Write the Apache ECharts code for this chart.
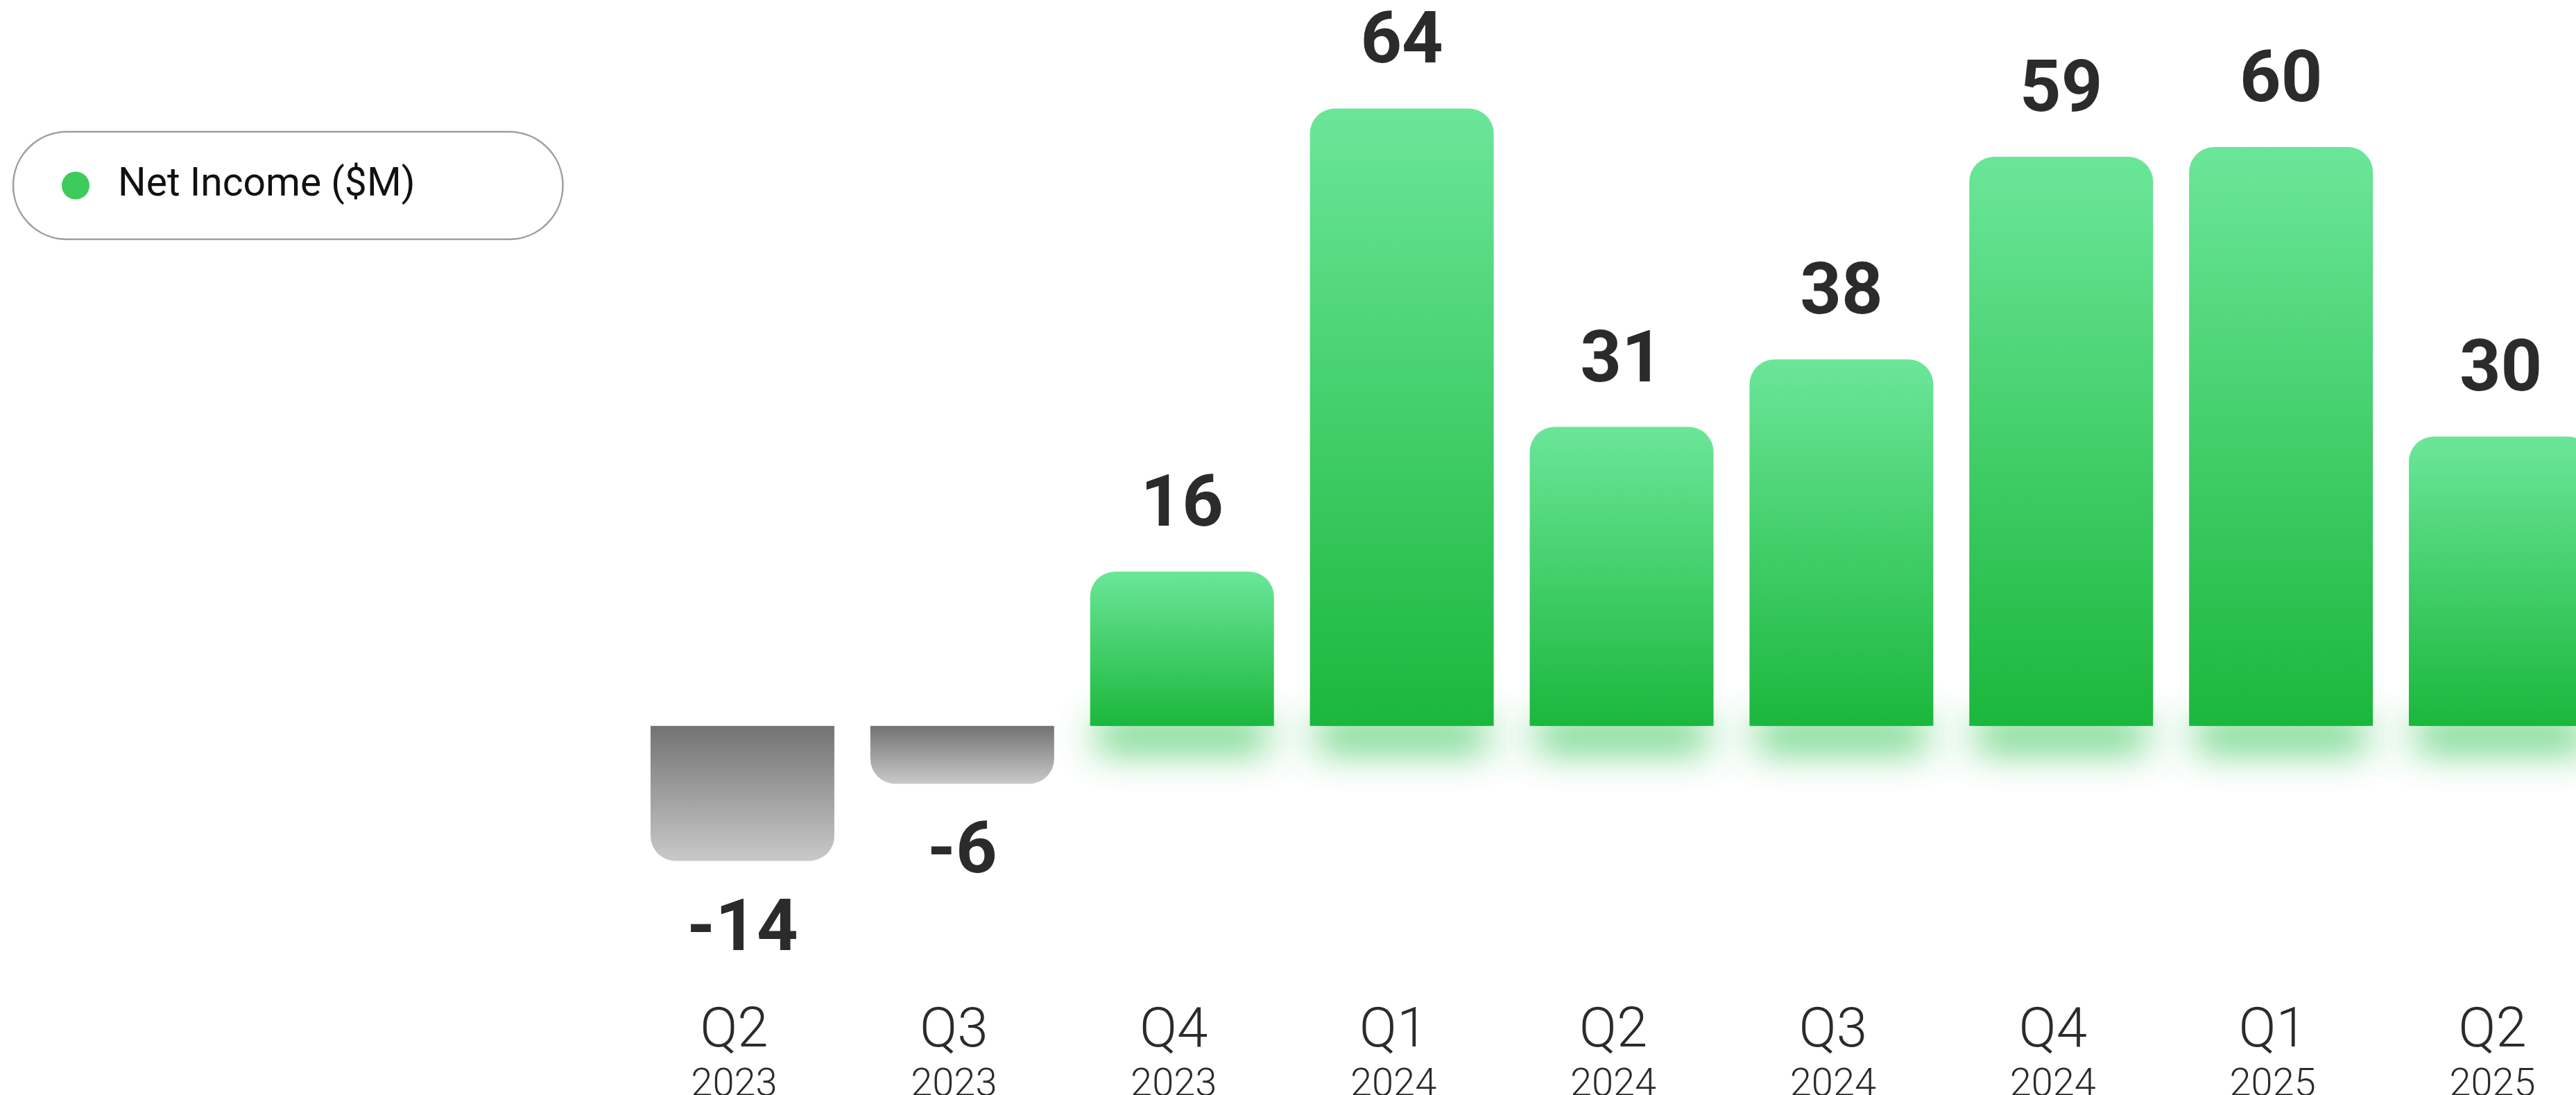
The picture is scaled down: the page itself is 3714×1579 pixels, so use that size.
<!DOCTYPE html>
<html>
<head>
<meta charset="utf-8">
<script src="https://cdn.jsdelivr.net/npm/echarts@6/dist/echarts.min.js"></script>
<style>
html,body{margin:0;padding:0;background:#ffffff;}
#chart{width:3714px;height:1579px;}
</style>
</head>
<body>
<div id="chart"></div>
<script>
const quarters = ['Q2','Q3','Q4','Q1','Q2','Q3','Q4','Q1','Q2'];
const years = ['2023','2023','2023','2024','2024','2024','2024','2025','2025'];
const netIncome = [-14, -6, 16, 64, 31, 38, 59, 60, 30];
const seriesName = 'Net Income ($M)';

const categories = quarters.map((q, i) => q + '\n' + years[i]);

const greenGrad = new echarts.graphic.LinearGradient(0, 0, 0, 1, [
  {offset: 0, color: '#6BE699'},
  {offset: 1, color: '#1BB73C'}
]);
const grayGrad = new echarts.graphic.LinearGradient(0, 0, 0, 1, [
  {offset: 0, color: '#737373'},
  {offset: 1, color: '#C9C9C9'}
]);

const barData = netIncome.map(v => ({
  value: v,
  itemStyle: v >= 0
    ? {color: greenGrad, borderRadius: [36, 36, 0, 0]}
    : {color: grayGrad, borderRadius: [0, 0, 36, 36]},
  label: v >= 0 ? {position: 'top', distance: 40} : {position: 'bottom', distance: 50}
}));

const chart = echarts.init(document.getElementById('chart'), null, {renderer: 'canvas'});
chart.setOption({
  backgroundColor: '#ffffff',
  animation: false,
  legend: {
    left: 19,
    top: 190,
    data: [{name: seriesName, itemStyle: {color: '#3DCB5D'}}],
    icon: 'circle',
    itemWidth: 40,
    itemHeight: 40,
    borderColor: '#9E9E9E',
    borderWidth: 2.5,
    borderRadius: 79,
    padding: [49, 213, 49, 70],
    textStyle: {
      fontFamily: 'Roboto',
      fontSize: 57,
      color: '#111111',
      padding: [0, 0, 0, 36]
    }
  },
  grid: {
    left: 912,
    width: 2852,
    top: 73,
    height: 1252,
    outerBoundsMode: 'none',
    containLabel: false
  },
  xAxis: {
    type: 'category',
    data: categories,
    axisLine: {show: false, onZero: false},
    axisTick: {show: false},
    splitLine: {show: false},
    axisLabel: {
      margin: 122,
      formatter: function (val) {
        const parts = val.split('\n');
        return '{q|' + parts[0] + '}\n{y|' + parts[1] + '}';
      },
      rich: {
        q: {fontFamily: 'Roboto', fontSize: 80, fontWeight: 300, color: '#2B2B2B', lineHeight: 84, padding: [0, 24, 0, 0]},
        y: {fontFamily: 'Roboto', fontSize: 56, fontWeight: 300, color: '#2B2B2B', lineHeight: 70, padding: [0, 24, 0, 0]}
      }
    }
  },
  yAxis: {
    type: 'value',
    min: -20,
    max: 70,
    show: false,
    splitLine: {show: false}
  },
  series: [
    {
      name: 'glow',
      type: 'custom',
      z: 1,
      silent: true,
      data: netIncome,
      renderItem: function (params, api) {
        const v = api.value(0);
        if (v <= 0) return null;
        const c = api.coord([params.dataIndex, 0]);
        const w = 265;
        return {
          type: 'rect',
          shape: {x: c[0] - w / 2 + 10, y: c[1] - 40, width: w - 20, height: 40},
          style: {
            fill: 'rgba(60,200,90,1)',
            shadowBlur: 55,
            shadowOffsetY: 34,
            shadowColor: 'rgba(45,195,80,0.85)'
          }
        };
      },
      encode: {x: -1, y: 0}
    },
    {
      name: seriesName,
      type: 'bar',
      z: 2,
      barWidth: 265,
      data: barData,
      label: {
        show: true,
        fontFamily: 'Roboto',
        fontWeight: 'bold',
        fontSize: 104,
        color: '#2B2B2B'
      }
    }
  ]
});
</script>
</body>
</html>
